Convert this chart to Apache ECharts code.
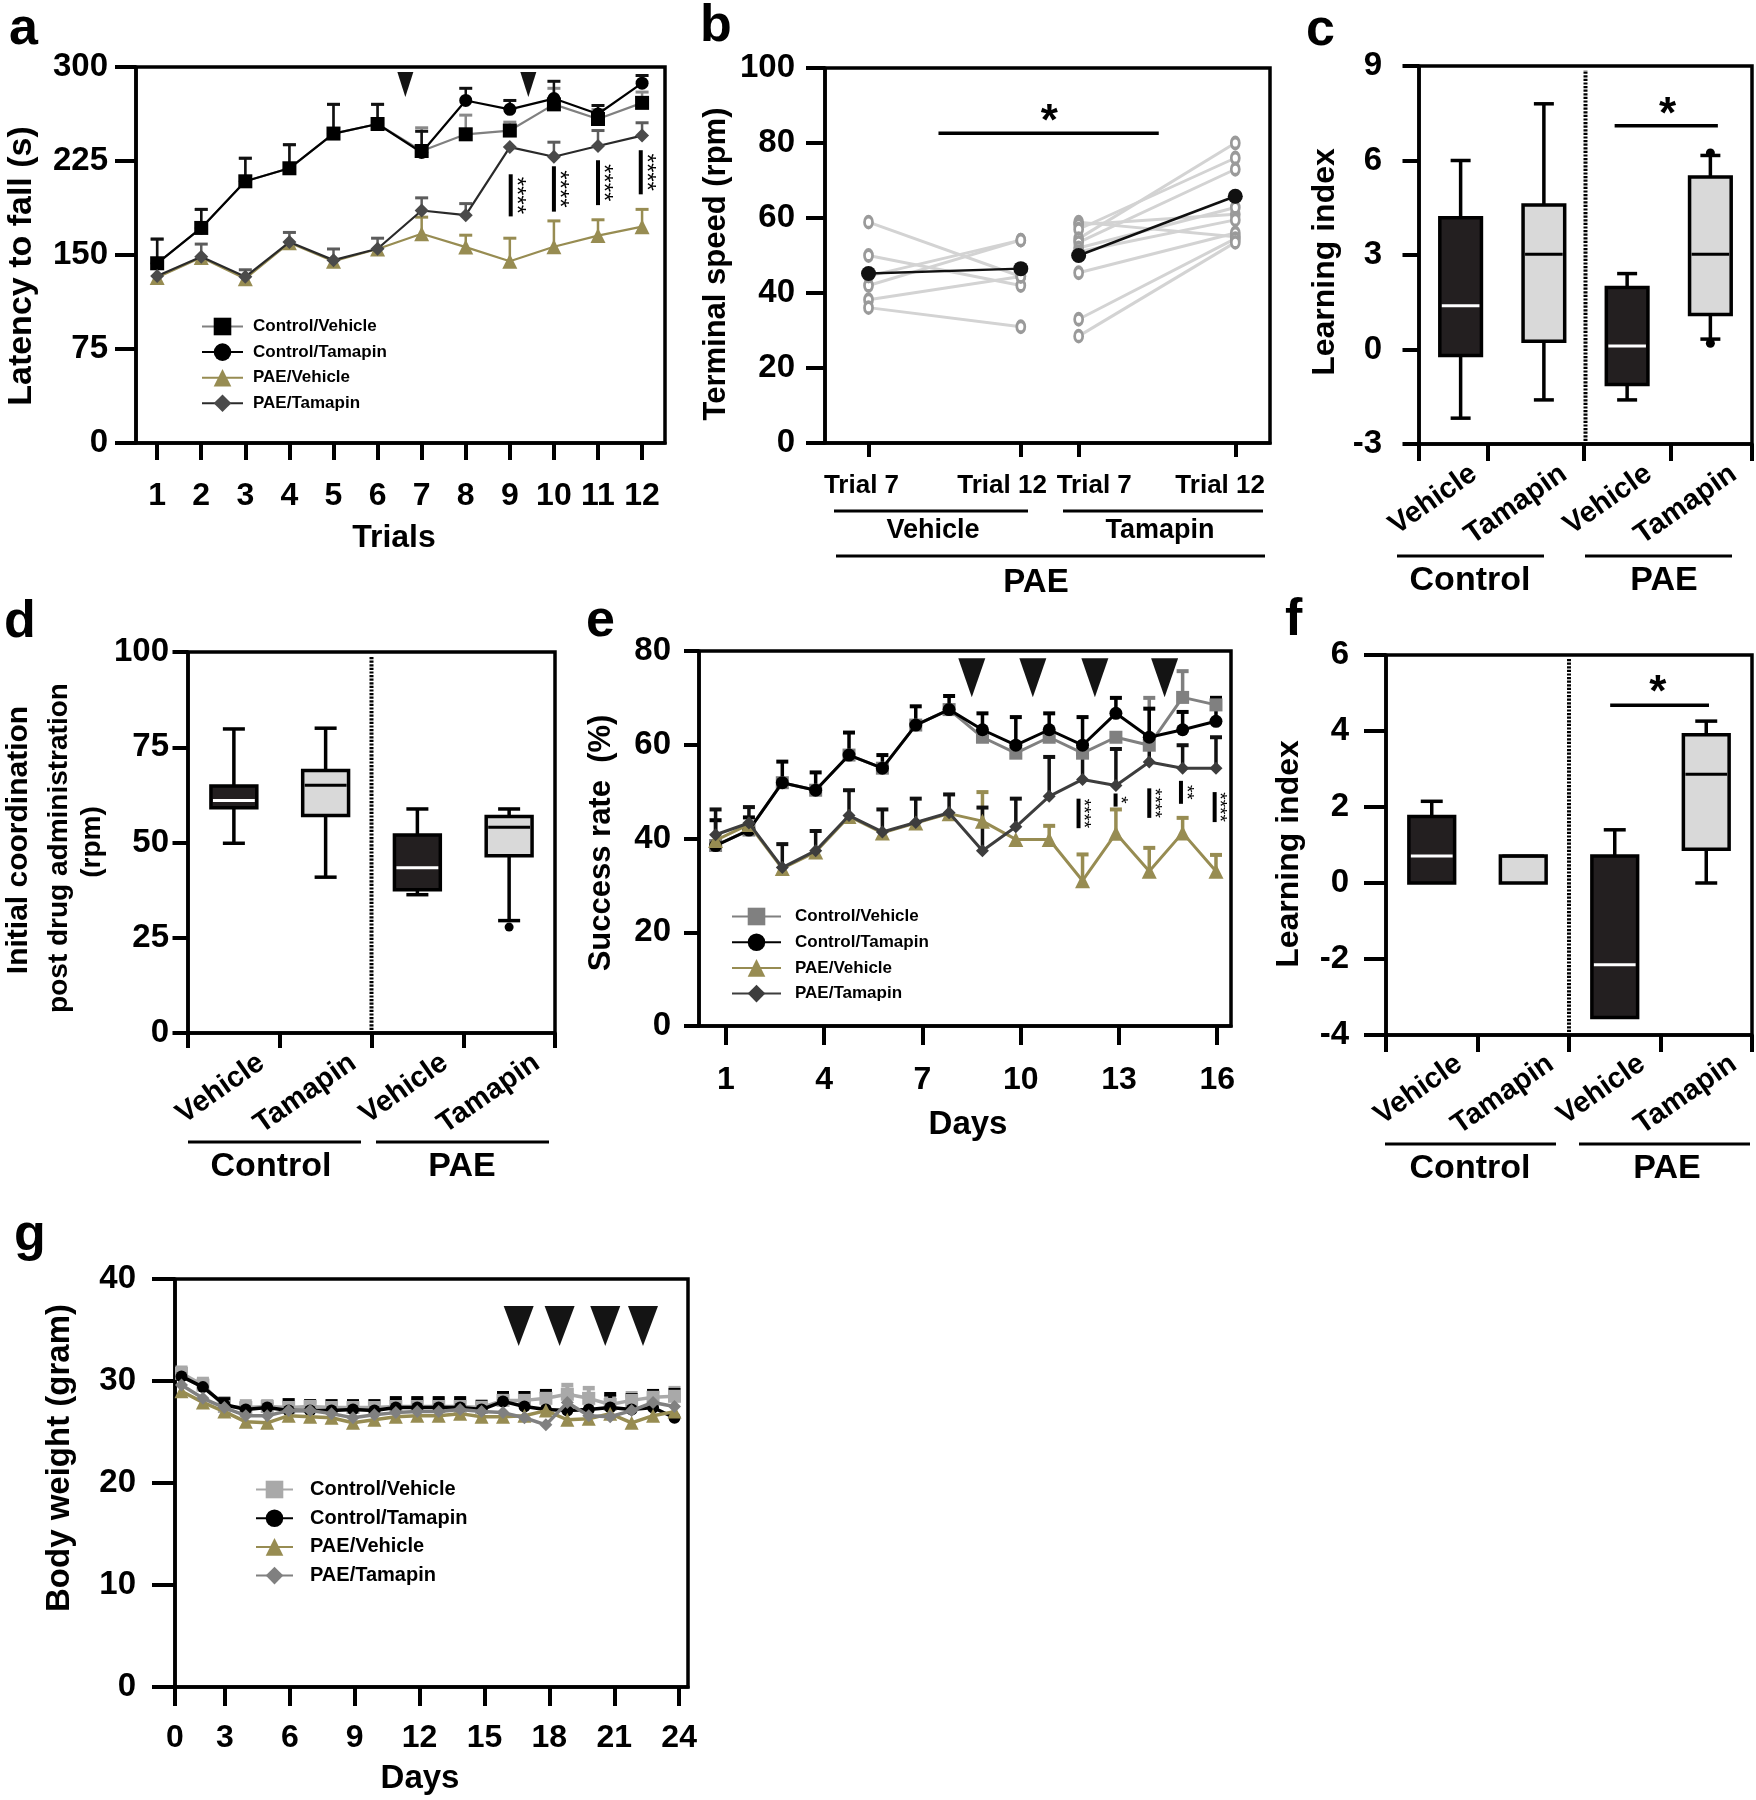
<!DOCTYPE html>
<html><head><meta charset="utf-8">
<script src="https://cdn.jsdelivr.net/npm/echarts@6/dist/echarts.min.js"></script>
<style>html,body{margin:0;padding:0;background:#fff}#c{width:1756px;height:1800px}</style>
</head><body><div id="c"></div>
<script>
const FONT = "'Liberation Sans', Arial, Helvetica, sans-serif";
const OLIVE = '#978c52';

// ---------- Panel a : rotarod latency
const aTrials = [1,2,3,4,5,6,7,8,9,10,11,12];
const aCtrlVeh = [143.4,171.6,208.8,219.2,246.9,254.5,233.0,246.3,249.3,270.2,258.5,271.4];
const aCtrlVehErr = [162.7,186.4,227.2,238.0,270.2,270.2,251.5,261.6,256.0,283.0,266.0,280.0];
const aCtrlTam = [143.4,171.6,208.8,219.2,246.9,254.5,231.8,273.3,266.2,274.8,262.5,287.1];
const aCtrlTamErr = [162.7,186.4,227.2,238.0,270.2,270.2,248.7,283.0,273.3,288.6,269.3,293.2];
const aPaeVeh = [132.0,148.0,131.1,159.7,145.0,154.8,167.0,156.3,145.0,156.6,165.5,172.6];
const aPaeVehErr = [null,null,null,null,null,null,180.2,165.8,163.4,177.2,178.1,186.4];
const aPaeTam = [133.3,148.6,132.6,160.3,145.9,155.0,185.5,181.8,236.1,228.4,237.0,245.3];
const aPaeTamErr = [null,158.7,138.2,168.0,154.8,163.4,195.6,191.0,null,240.0,249.3,255.5];
const aArrowX = [6.63, 9.42];
const aArrowY = [286, 286];
const aSigX = [9.02, 10.0, 11.0, 11.97];
const aSigLow = [180.8, 184.6, 189.8, 198.4];
const aSigHigh = [214.4, 220.8, 225.6, 233.6];
const aSigText = ['****','****','****','****'];

// ---------- Panel b : terminal speed
const bTickPos = [9.78, 44, 57, 92.2];
const bLabelPos = [8.2, 39.8, 60.5, 88.8];
const bTickLabels = ['Trial 7','Trial 12','Trial 7','Trial 12'];
const bVehT7 = [58.9, 50.0, 42.0, 44.5, 38.2, 36.1];
const bVehT12 = [44.4, 42.0, 54.1, 54.1, 44.4, 31.0];
const bTamT7 = [58.9, 58.2, 57.0, 54.5, 53.5, 52.0, 45.4, 33.0, 28.5, 51.0];
const bTamT12 = [55.0, 61.0, 76.0, 80.0, 73.0, 62.8, 56.0, 54.5, 53.5, 59.5];
const bMeanVeh = [45.2, 46.5];
const bMeanTam = [50.0, 65.8];

// ---------- Panel c : learning index (rotarod)
const boxLabels = ['Vehicle','Tamapin','Vehicle','Tamapin'];
const boxX = [0.5, 1.5, 2.5, 3.5];
const boxLabelPos = [0.8, 1.8, 2.8, 3.8];
const cLabelPos = [0.66, 1.74, 2.76, 3.78];
const boxFill = ['#231f20','#d9d9d9','#231f20','#d9d9d9'];
const boxMedColor = ['#ffffff','#000000','#ffffff','#000000'];
const cTicks = [0, 0.82, 1.98, 3.03, 4];
const cMin = [-2.18, -1.6, -1.6, 0.33];
const cQ1 = [-0.19, 0.26, -1.11, 1.11];
const cMed = [1.39, 3.02, 0.11, 3.02];
const cQ3 = [4.18, 4.59, 1.97, 5.48];
const cMax = [6.0, 7.8, 2.41, 6.16];
const cOutX = [3.5, 3.5];
const cOutY = [6.24, 0.2];

// ---------- Panel d : initial coordination
const dTicks = [0, 1, 2, 3, 4];
const dMin = [49.8, 40.9, 36.3, 29.5];
const dQ1 = [59.1, 57.1, 37.6, 46.5];
const dMed = [61.0, 65.0, 43.4, 54.0];
const dQ3 = [64.8, 68.9, 52.0, 56.8];
const dMax = [79.8, 80.0, 58.8, 58.8];
const dOutX = [3.5];
const dOutY = [27.8];

// ---------- Panel e : success rate
const eDays = [1,2,3,4,5,6,7,8,9,10,11,12,13,14,15,16];
const eTicks = [1, 4, 7, 10, 13, 16];
const eCtrlVeh = [38.5,41.8,51.9,50.3,57.8,55.0,64.2,67.5,61.6,58.2,61.6,58.2,61.6,59.9,70.1,68.5];
const eCtrlVehErr = [null,null,null,null,null,null,null,null,null,null,null,null,null,70.0,75.7,70.0];
const eCtrlTam = [38.5,41.8,51.9,50.3,57.8,55.0,64.2,67.5,63.2,59.9,63.2,59.9,66.7,61.6,63.2,65.0];
const eCtrlTamErr = [43.9,44.5,56.4,54.1,62.6,57.8,68.2,70.4,66.7,65.9,66.7,65.9,70.0,67.7,67.0,70.0];
const ePaeVeh = [39.6,43.0,33.6,37.1,44.7,41.2,43.3,45.3,43.7,39.8,39.8,31.0,41.1,33.0,41.2,33.0];
const ePaeVehErr = [null,null,null,null,null,null,null,null,49.9,null,42.7,36.6,46.2,38.0,44.4,36.5];
const ePaeTam = [40.8,43.3,33.8,37.4,44.9,41.4,43.4,45.5,37.4,42.5,49.0,52.6,51.3,56.3,55.0,55.0];
const ePaeTamErr = [46.2,46.7,38.8,41.6,50.3,46.2,48.5,49.4,46.6,48.5,57.4,58.0,59.1,62.0,59.9,61.6];
const eArrowX = [8.68, 10.51, 12.37, 14.46];
const eArrowY = [74.3, 74.3, 74.3, 74.3];
const eSigX = [11.88, 12.99, 14.0, 14.95, 15.96];
const eSigLow = [42.2, 46.8, 44.4, 47.4, 43.5];
const eSigHigh = [48.5, 49.6, 50.7, 52.3, 49.9];
const eSigText = ['****','*','****','**','****'];

// ---------- Panel f : learning index (success)
const fMin = [0, 0, -3.54, 0];
const fQ1 = [0, 0, -3.54, 0.89];
const fMed = [0.71, 0.71, -2.15, 2.86];
const fQ3 = [1.75, 0.71, 0.71, 3.9];
const fMax = [2.15, 0.71, 1.4, 4.26];

// ---------- Panel g : body weight
const gDays = [1,2,3,4,5,6,7,8,9,10,11,12,13,14,15,16,17,18,19,20,21,22,23,24];
const gTicks = [0.69, 3, 6, 9, 12, 15, 18, 21, 24];
const gCtrlVeh = [30.75,29.6,27.5,27.4,27.5,27.4,27.5,27.4,27.4,27.4,27.5,27.5,27.5,27.5,27.4,28.1,28.1,28.3,28.7,28.3,27.7,28.1,28.4,28.5];
const gCtrlVehErr = [31.3,30.2,28.3,28.0,28.0,28.1,28.0,28.0,28.0,28.0,28.2,28.2,28.2,28.2,28.0,28.8,28.8,29.0,29.6,29.3,28.4,28.8,29.0,29.3];
const gCtrlTam = [30.45,29.4,27.7,27.2,27.4,27.1,27.1,27.1,27.2,27.1,27.4,27.4,27.4,27.4,27.2,28.0,27.5,27.2,27.1,27.2,27.4,27.2,27.4,26.4];
const gCtrlTamErr = [31.1,29.8,28.2,27.7,27.7,28.1,28.0,28.0,28.0,28.0,28.3,28.3,28.3,28.3,27.9,28.8,28.8,29.0,28.6,28.7,28.7,28.6,29.0,29.1];
const gPaeVeh = [29.0,27.9,27.0,26.0,25.9,26.6,26.5,26.4,25.9,26.2,26.5,26.6,26.6,26.8,26.5,26.5,26.6,27.1,26.2,26.3,26.8,25.9,26.6,27.0];
const gPaeTam = [29.6,28.3,27.4,26.6,26.6,27.1,27.1,26.8,26.4,26.7,26.9,27.0,27.0,27.2,27.0,26.9,26.4,25.7,27.9,26.6,26.5,27.1,27.9,27.5];
const gArrowX = [16.73, 18.64, 20.77, 22.53];
const gArrowY = [35.4, 35.4, 35.4, 35.4];

const groupNames = ['Control/Vehicle','Control/Tamapin','PAE/Vehicle','PAE/Tamapin'];

// ================= helpers =================
function pick(arr, pos, v){ for (let i=0;i<pos.length;i++){ if (Math.abs(pos[i]-v) < 0.01) return arr[i]; } return ''; }
function pairs(xs, ys){ return xs.map((x,i)=>[x, ys[i]]); }

function yAx(grid, min, max, interval, tickLen, margin){
  return {type:'value', gridIndex:grid, min, max, interval,
    axisLine:{show:true, onZero:false, lineStyle:{color:'#000', width:3.5}},
    axisTick:{show:true, length:tickLen, lineStyle:{color:'#000', width:4}},
    axisLabel:{color:'#000', fontSize:33, fontWeight:'bold', fontFamily:FONT, margin, showMinLabel:true, showMaxLabel:true},
    splitLine:{show:false}};
}
function xAx(grid, min, max, ticks, labelVals, tickLen, margin, fontSize, formatter, rotate){
  return {type:'value', gridIndex:grid, min, max, position:'bottom',
    axisLine:{show:true, onZero:false, lineStyle:{color:'#000', width:3.5}},
    axisTick:{show:true, length:tickLen, customValues:ticks, lineStyle:{color:'#000', width:4}},
    axisLabel:{show:true, customValues:labelVals, color:'#000', fontSize, fontWeight:'bold', fontFamily:FONT, margin, rotate:rotate||0, formatter, showMinLabel:true, showMaxLabel:true},
    splitLine:{show:false}};
}
function hiddenX(grid, min, max){ return {type:'value', gridIndex:grid, min, max, show:false, position:'top', splitLine:{show:false}}; }

function lineS(name, xi, yi, xs, ys, color, lineColor, lw, symbol, size, z){
  return {name, type:'line', xAxisIndex:xi, yAxisIndex:yi, data:pairs(xs, ys), symbol, symbolSize:size,
    showSymbol:true, showAllSymbol:true, itemStyle:{color, borderWidth:0, opacity:1}, lineStyle:{color:lineColor, width:lw},
    z, animation:false, emphasis:{disabled:true}};
}
function errS(xi, yi, xs, ys, tops, color, lw, cap, z){
  return {type:'custom', xAxisIndex:xi, yAxisIndex:yi, z:z||2, silent:true,
    data: xs.map((x,i)=>[x, ys[i], tops[i]]).filter(d=>d[2]!=null),
    renderItem(params, api){
      const p0 = api.coord([api.value(0), api.value(1)]);
      const p1 = api.coord([api.value(0), api.value(2)]);
      return {type:'group', children:[
        {type:'line', shape:{x1:p0[0], y1:p0[1], x2:p1[0], y2:p1[1]}, style:{stroke:color, lineWidth:lw}},
        {type:'line', shape:{x1:p1[0]-cap/2, y1:p1[1], x2:p1[0]+cap/2, y2:p1[1]}, style:{stroke:color, lineWidth:lw+0.5}}
      ]};
    }};
}
function arrowS(xi, yi, xs, ys, size){
  return {type:'scatter', xAxisIndex:xi, yAxisIndex:yi, data:pairs(xs, ys), symbol:'triangle', symbolRotate:180,
    symbolSize:size, itemStyle:{color:'#141414', opacity:1}, z:8, silent:true, animation:false};
}
function vsigS(xi, yi, xs, lows, highs, texts, fs, off, lw){
  return {type:'custom', xAxisIndex:xi, yAxisIndex:yi, z:8, silent:true,
    data: xs.map((x,i)=>[x, lows[i], highs[i], i]),
    renderItem(params, api){
      const i = api.value(3);
      const p0 = api.coord([api.value(0), api.value(1)]);
      const p1 = api.coord([api.value(0), api.value(2)]);
      return {type:'group', children:[
        {type:'line', shape:{x1:p0[0], y1:p0[1], x2:p1[0], y2:p1[1]}, style:{stroke:'#000', lineWidth:lw}},
        {type:'text', x:p0[0]+off, y:(p0[1]+p1[1])/2, rotation:-Math.PI/2,
          style:{text:texts[i], font:`normal ${fs}px ${FONT}`, fill:'#000', align:'center', verticalAlign:'middle'}}
      ]};
    }};
}
function hsigS(xi, yi, x1, x2, y, sx, sy, fs){
  return {type:'custom', xAxisIndex:xi, yAxisIndex:yi, z:8, silent:true,
    data:[[x1, y, x2, sx, sy]],
    renderItem(params, api){
      const p1 = api.coord([api.value(0), api.value(1)]);
      const p2 = api.coord([api.value(2), api.value(1)]);
      const ps = api.coord([api.value(3), api.value(4)]);
      return {type:'group', children:[
        {type:'line', shape:{x1:p1[0], y1:p1[1], x2:p2[0], y2:p2[1]}, style:{stroke:'#000', lineWidth:3.5}},
        {type:'text', x:ps[0], y:ps[1] + 0.22*fs, style:{text:'*', font:`bold ${fs}px ${FONT}`, fill:'#000', align:'center', verticalAlign:'middle'}}
      ]};
    }};
}
function divS(xi, yi, x, y0, y1){
  return {type:'custom', xAxisIndex:xi, yAxisIndex:yi, z:3, silent:true, data:[[x, y0, y1]],
    renderItem(params, api){
      const a = api.coord([api.value(0), api.value(1)]);
      const b = api.coord([api.value(0), api.value(2)]);
      return {type:'line', shape:{x1:a[0], y1:a[1]-3, x2:b[0], y2:b[1]+4}, style:{stroke:'#000', lineWidth:4, lineDash:[2.2,1.4]}};
    }};
}
function boxS(xi, yi, xs, mins, q1s, meds, q3s, maxs){
  return {type:'custom', xAxisIndex:xi, yAxisIndex:yi, z:4, silent:true,
    data: xs.map((x,i)=>[x, mins[i], q1s[i], meds[i], q3s[i], maxs[i], i]),
    renderItem(params, api){
      const i = api.value(6), x = api.value(0);
      const yv = k => api.coord([x, api.value(k)])[1];
      const cx = api.coord([x, api.value(1)])[0];
      const yMin = yv(1), yQ1 = yv(2), yMed = yv(3), yQ3 = yv(4), yMax = yv(5);
      const bw = api.size([0.5, 0])[0], cw = api.size([0.24, 0])[0];
      const st = {stroke:'#000', lineWidth:3.5};
      const ch = [];
      if (yMax < yQ3 - 1) {
        ch.push({type:'line', shape:{x1:cx, y1:yMax, x2:cx, y2:yQ3}, style:st});
        ch.push({type:'line', shape:{x1:cx-cw/2, y1:yMax, x2:cx+cw/2, y2:yMax}, style:st});
      }
      if (yMin > yQ1 + 1) {
        ch.push({type:'line', shape:{x1:cx, y1:yQ1, x2:cx, y2:yMin}, style:st});
        ch.push({type:'line', shape:{x1:cx-cw/2, y1:yMin, x2:cx+cw/2, y2:yMin}, style:st});
      }
      ch.push({type:'rect', shape:{x:cx-bw/2, y:yQ3, width:bw, height:yQ1-yQ3}, style:{fill:boxFill[i], stroke:'#000', lineWidth:3.5}});
      ch.push({type:'line', shape:{x1:cx-bw/2+2, y1:yMed, x2:cx+bw/2-2, y2:yMed}, style:{stroke:boxMedColor[i], lineWidth:3}});
      return {type:'group', children:ch};
    }};
}
function dotS(xi, yi, xs, ys){
  return {type:'scatter', xAxisIndex:xi, yAxisIndex:yi, data:pairs(xs, ys), symbol:'circle', symbolSize:9,
    itemStyle:{color:'#000', opacity:1}, z:6, silent:true, animation:false};
}
function subjS(xa, xb, va, vb){
  return {type:'line', xAxisIndex:1, yAxisIndex:1, silent:true, animation:false,
    data:[[xa, va],[xb, vb]], symbol:'circle', symbolSize:[8,11],
    itemStyle:{color:'#ffffff', borderColor:'#9a9a9a', borderWidth:3.2, opacity:1},
    lineStyle:{color:'#d3d3d3', width:3}, z:2};
}

// ================= axes =================
const xAxes = [
  xAx(0, 0.52, 12.52, aTrials, aTrials, 17, 37, 32),
  xAx(1, 0, 100, bTickPos, bLabelPos, 14, 30, 26, v => pick(bTickLabels, bLabelPos, v)),
  xAx(2, 0, 4, cTicks, cLabelPos, 17, 27, 29, v => pick(boxLabels, cLabelPos, v), 35),
  xAx(3, 0, 4, dTicks, boxLabelPos, 15, 27, 29, v => pick(boxLabels, boxLabelPos, v), 35),
  hiddenX(4, 0.503, 16.45),
  xAx(4, 0.177, 16.42, eTicks, eTicks, 19, 38, 32),
  xAx(5, 0, 4, dTicks, boxLabelPos, 17, 26, 29, v => pick(boxLabels, boxLabelPos, v), 35),
  hiddenX(6, 0.697, 24.63),
  xAx(6, 0.69, 24.41, gTicks, gTicks, 19, 35, 32, v => (v < 1 ? '0' : String(v)))
];
const yAxes = [
  yAx(0, 0, 300, 75, 21, 28),
  yAx(1, 0, 100, 20, 19, 30),
  yAx(2, -3, 9, 3, 16.5, 37),
  yAx(3, 0, 100, 25, 15.5, 19),
  yAx(4, 0, 80, 20, 15, 28),
  yAx(5, -4, 6, 2, 22, 37),
  yAx(6, 0, 40, 10, 23, 39)
];
const grids = [
  {left:136, top:67, width:529, height:376},
  {left:825, top:68, width:445, height:375},
  {left:1419, top:66, width:333, height:378},
  {left:188, top:652, width:367, height:381},
  {left:699, top:651, width:532, height:375},
  {left:1386, top:655, width:366, height:380},
  {left:175, top:1279, width:513, height:408}
].map(g => Object.assign({show:true, borderColor:'#000', borderWidth:3.5, backgroundColor:'rgba(0,0,0,0)', containLabel:false, outerBoundsMode:'none'}, g));

// ================= series =================
const series = [];
// a
series.push(errS(0,0,aTrials,aCtrlVeh,aCtrlVehErr,'#8a8a8a',2.5,13));
series.push(errS(0,0,aTrials,aCtrlTam,aCtrlTamErr,'#111',2.5,13));
series.push(errS(0,0,aTrials,aPaeVeh,aPaeVehErr,OLIVE,2.5,13));
series.push(errS(0,0,aTrials,aPaeTam,aPaeTamErr,'#5c5c5c',2.5,13));
series.push(lineS(groupNames[0],0,0,aTrials,aCtrlVeh,'#000','#808080',2.2,'rect',14,3));
series.push(lineS(groupNames[1],0,0,aTrials,aCtrlTam,'#000','#000',2.2,'circle',13,4));
series.push(lineS(groupNames[2],0,0,aTrials,aPaeVeh,OLIVE,OLIVE,2.2,'triangle',15,5));
series.push(lineS(groupNames[3],0,0,aTrials,aPaeTam,'#4a4a4a','#2a2a2a',2.2,'diamond',14,6));
series.push(arrowS(0,0,aArrowX,aArrowY,[16,25]));
series.push(vsigS(0,0,aSigX,aSigLow,aSigHigh,aSigText,24,5,4));
// b
bVehT7.forEach((v,i) => series.push(subjS(bTickPos[0], bTickPos[1], v, bVehT12[i])));
bTamT7.forEach((v,i) => series.push(subjS(bTickPos[2], bTickPos[3], v, bTamT12[i])));
series.push({type:'line', xAxisIndex:1, yAxisIndex:1, silent:true, animation:false, data:[[bTickPos[0], bMeanVeh[0]],[bTickPos[1], bMeanVeh[1]]],
  symbol:'circle', symbolSize:15, itemStyle:{color:'#111', opacity:1}, lineStyle:{color:'#111', width:2.5}, z:5});
series.push({type:'line', xAxisIndex:1, yAxisIndex:1, silent:true, animation:false, data:[[bTickPos[2], bMeanTam[0]],[bTickPos[3], bMeanTam[1]]],
  symbol:'circle', symbolSize:15, itemStyle:{color:'#111', opacity:1}, lineStyle:{color:'#111', width:2.5}, z:5});
series.push(hsigS(1,1,25.5,75,82.6,50.4,88,44));
// c
series.push(divS(2,2,2,-3,9));
series.push(boxS(2,2,boxX,cMin,cQ1,cMed,cQ3,cMax));
series.push(dotS(2,2,cOutX,cOutY));
series.push(hsigS(2,2,2.35,3.59,7.1,2.985,7.74,44));
// d
series.push(divS(3,3,2,0,100));
series.push(boxS(3,3,boxX,dMin,dQ1,dMed,dQ3,dMax));
series.push(dotS(3,3,dOutX,dOutY));
// e
series.push(errS(4,4,eDays,eCtrlVeh,eCtrlVehErr,'#7f7f7f',3.5,12));
series.push(errS(4,4,eDays,eCtrlTam,eCtrlTamErr,'#000',3.5,12));
series.push(errS(4,4,eDays,ePaeVeh,ePaeVehErr,OLIVE,3.5,12));
series.push(errS(4,4,eDays,ePaeTam,ePaeTamErr,'#111',3.5,12));
series.push(lineS(groupNames[0]+' ',4,4,eDays,eCtrlVeh,'#808080','#808080',3,'rect',13,3));
series.push(lineS(groupNames[1]+' ',4,4,eDays,eCtrlTam,'#000','#000',3,'circle',13,4));
series.push(lineS(groupNames[2]+' ',4,4,eDays,ePaeVeh,OLIVE,OLIVE,3,'triangle',15,5));
series.push(lineS(groupNames[3]+' ',4,4,eDays,ePaeTam,'#3d3d3d','#3d3d3d',3,'diamond',13,6));
series.push(arrowS(4,4,eArrowX,eArrowY,[27,39]));
series.push(vsigS(4,4,eSigX,eSigLow,eSigHigh,eSigText,19,5,4));
// f
series.push(divS(6,5,2,-4,6));
series.push(boxS(6,5,boxX,fMin,fQ1,fMed,fQ3,fMax));
series.push(hsigS(6,5,2.45,3.53,4.68,2.97,5.24,44));
// g
series.push(errS(7,6,gDays,gCtrlVeh,gCtrlVehErr,'#a9a9a9',4,12));
series.push(errS(7,6,gDays,gCtrlTam,gCtrlTamErr,'#000',4,12));
series.push(lineS(groupNames[0]+'  ',7,6,gDays,gCtrlVeh,'#a9a9a9','#a9a9a9',3.5,'rect',13,3));
series.push(lineS(groupNames[1]+'  ',7,6,gDays,gCtrlTam,'#000','#000',3.5,'circle',12,4));
series.push(lineS(groupNames[2]+'  ',7,6,gDays,gPaeVeh,OLIVE,OLIVE,3.5,'triangle',14,5));
series.push(lineS(groupNames[3]+'  ',7,6,gDays,gPaeTam,'#808080','#808080',3.5,'diamond',13,6));
series.push(arrowS(7,6,gArrowX,gArrowY,[30,40]));

// ================= text / decorations =================
const graphics = [];
function T(text, x, y, size, rot, align, weight){
  graphics.push({type:'text', x, y, rotation:rot||0, z:50, silent:true,
    style:{text, font:`${weight||'bold'} ${size}px ${FONT}`, fill:'#000', align:align||'center', verticalAlign:'middle'}});
}
function L(x1, x2, y, w){ graphics.push({type:'line', z:50, silent:true, shape:{x1, y1:y, x2, y2:y}, style:{stroke:'#000', lineWidth:w||3}}); }
// panel letters
T('a', 9, 30, 52, 0, 'left'); T('b', 700, 27, 52, 0, 'left'); T('c', 1306, 31, 52, 0, 'left');
T('d', 4, 623, 52, 0, 'left'); T('e', 586, 622, 52, 0, 'left'); T('f', 1285, 621, 52, 0, 'left');
T('g', 14, 1236, 52, 0, 'left');
// axis titles
const R = Math.PI/2;
T('Latency to fall (s)', 22, 266, 34, R);
T('Trials', 394, 538, 32);
T('Terminal speed (rpm)', 716, 264, 31, R);
T('Learning index', 1325, 262, 32, R);
T('Initial coordination', 19, 840, 30, R);
T('post drug administration', 59, 848, 28, R);
T('(rpm)', 92, 842, 28, R);
T('Success rate  (%)', 601, 843, 31, R);
T('Days', 968, 1125, 33);
T('Learning index', 1289, 854, 32, R);
T('Body weight (gram)', 60, 1458, 33, R);
T('Days', 420, 1779, 33);
// panel b grouping
L(834, 1028, 511); L(1063, 1263, 511); L(836, 1265, 556);
T('Vehicle', 933, 531, 27); T('Tamapin', 1160, 531, 27); T('PAE', 1036, 583, 33);
// panel c grouping
L(1397, 1544, 556); L(1585, 1732, 556);
T('Control', 1470, 581, 34); T('PAE', 1664, 581, 34);
// panel d grouping
L(188, 361, 1142); L(376, 549, 1142);
T('Control', 271, 1167, 34); T('PAE', 462, 1167, 34);
// panel f grouping
L(1385, 1556, 1144); L(1579, 1750, 1144);
T('Control', 1470, 1169, 34); T('PAE', 1667, 1169, 34);

const legTxt = (fs, lh, padL) => ({fontSize:fs, fontWeight:'bold', fontFamily:FONT, color:'#000', lineHeight:lh, padding:[0,0,0,padL]});
const option = {
  animation:false,
  backgroundColor:'#ffffff',
  textStyle:{fontFamily:FONT},
  grid:grids, xAxis:xAxes, yAxis:yAxes, series,
  legend:[
    {data:groupNames, orient:'vertical', left:196, top:310.5, itemWidth:41, itemHeight:22, itemGap:3.6, selectedMode:false, textStyle:legTxt(17,22,5)},
    {data:groupNames.map(n=>n+' '), orient:'vertical', left:726, top:900.5, itemWidth:49, itemHeight:22, itemGap:3.7, selectedMode:false, textStyle:legTxt(17,22,9)},
    {data:groupNames.map(n=>n+'  '), orient:'vertical', left:250, top:1473.5, itemWidth:37, itemHeight:22, itemGap:6.7, selectedMode:false, textStyle:legTxt(20,22,12)}
  ],
  graphic:graphics
};
const chart = echarts.init(document.getElementById('c'), null, {renderer:'canvas', width:1756, height:1800});
chart.setOption(option);
</script>
</body></html>
